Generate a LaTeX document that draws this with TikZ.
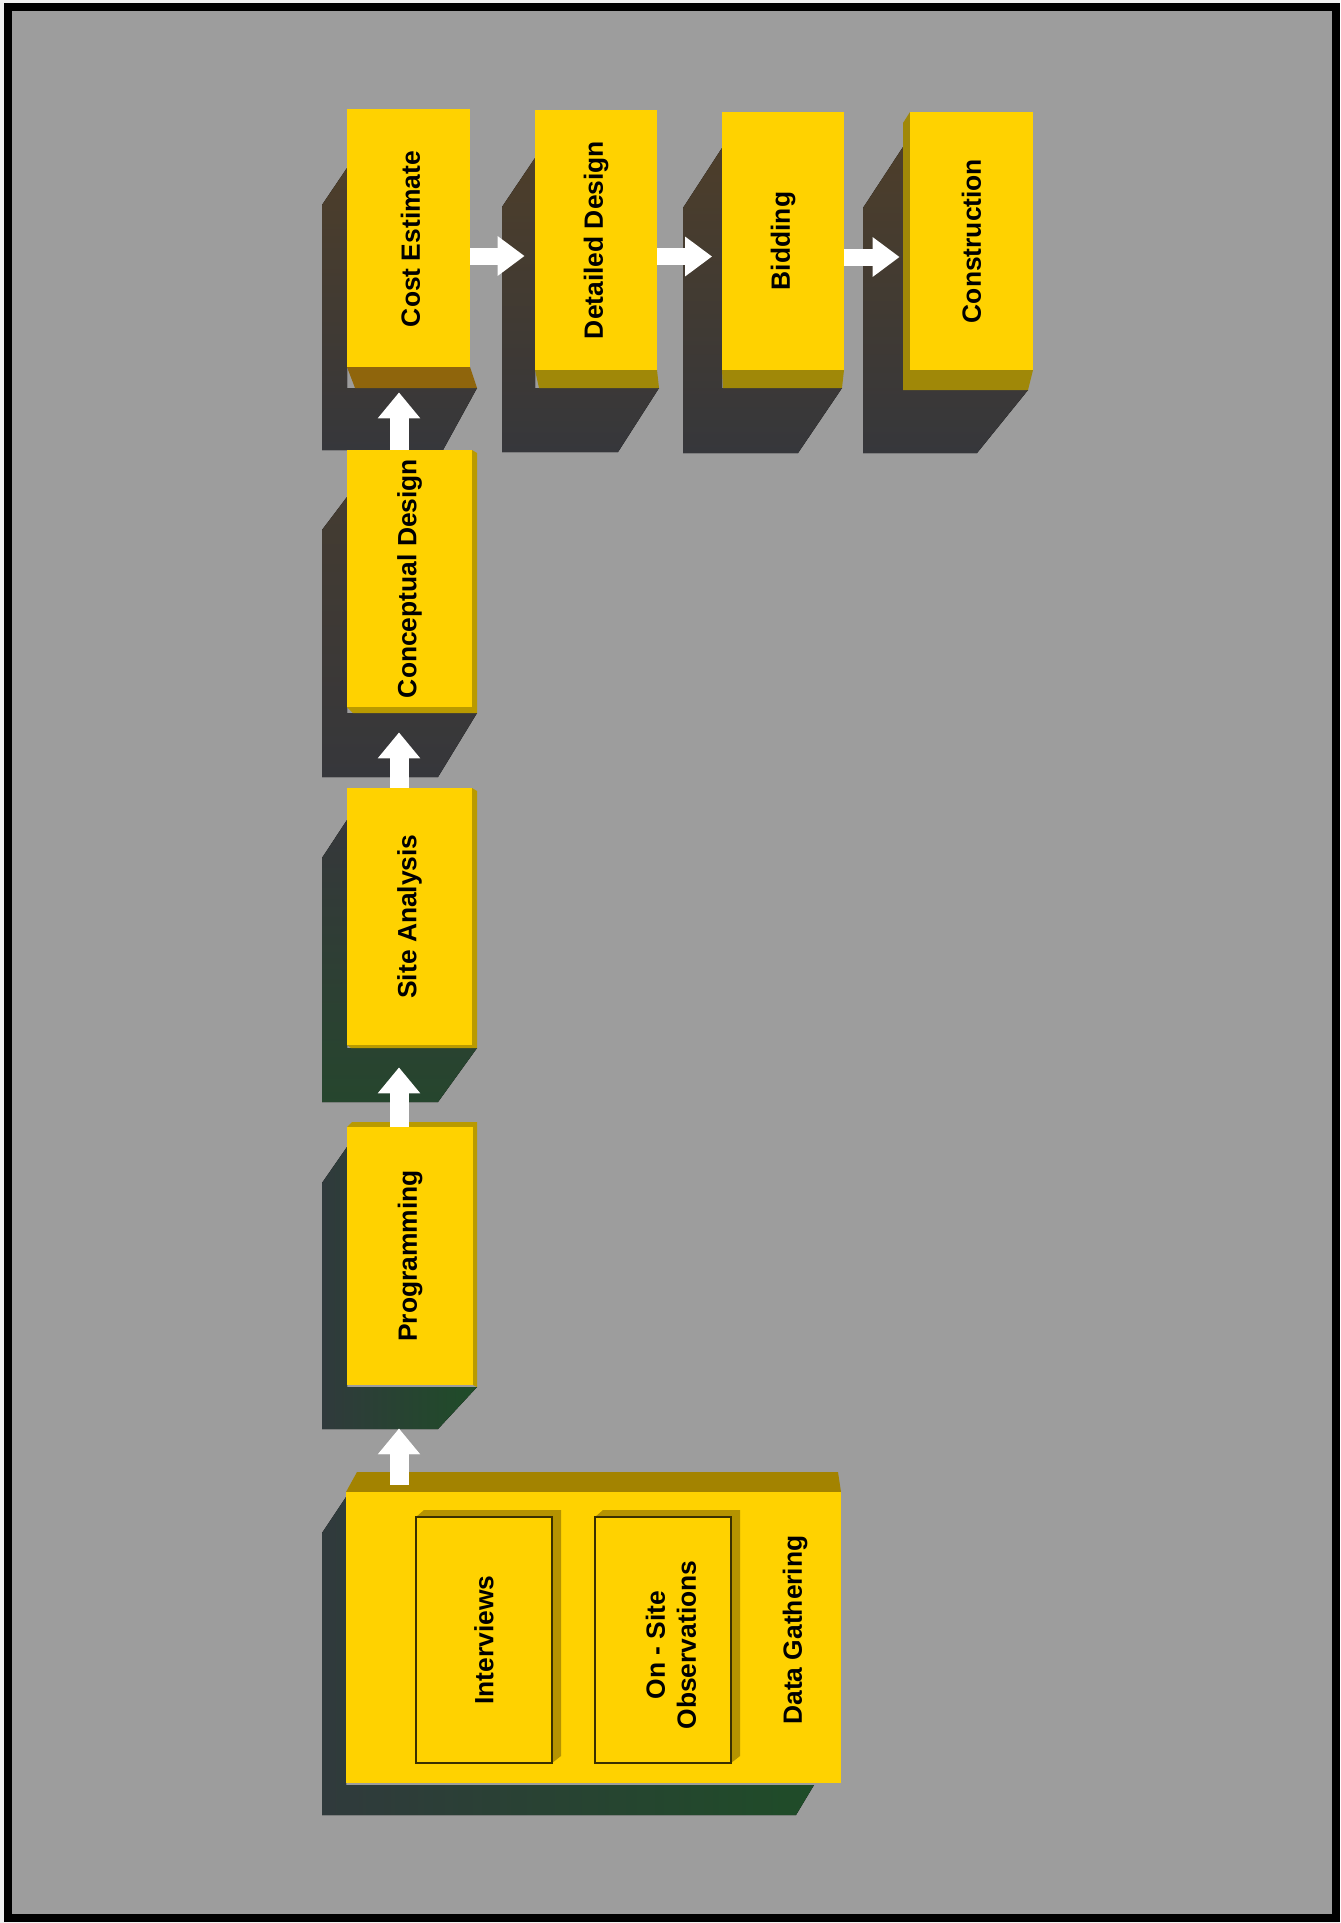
\documentclass[tikz,border=0pt]{standalone}
\usepackage{fontspec}
\setmainfont{Liberation Sans}
\usetikzlibrary{arrows.meta,fit,calc}
\definecolor{bg}{HTML}{9D9D9D}
\definecolor{yel}{HTML}{FFD200}
\definecolor{olivetop}{HTML}{A38300}
\definecolor{sidey}{HTML}{B99A00}
\definecolor{botbrown}{HTML}{8F650C}
\definecolor{botolive}{HTML}{A08808}
\definecolor{shtop}{HTML}{4D3E2A}
\definecolor{shbot}{HTML}{36373B}
\definecolor{shgreen}{HTML}{1F4C28}
\definecolor{shslate}{HTML}{303A3C}
\definecolor{innerside}{HTML}{B59300}
\definecolor{inborder}{HTML}{3A3000}
\begin{document}
\begin{tikzpicture}[x=0.5pt,y=-0.5pt,
  box/.style={fill=yel, draw=none, inner sep=0pt},
  inbox/.style={fill=yel, draw=inborder, line width=0.75pt, inner sep=0pt},
  lab/.style={rotate=90, inner sep=0pt, align=center, font=\fontsize{13.2}{15.5}\selectfont\bfseries},
  harrow/.style={draw=white, line width=8.5pt, -{Triangle[length=13.5pt,width=19pt]}},
  varrow/.style={draw=white, line width=9.5pt, -{Triangle[length=13pt,width=20.5pt]}},
  varrowsh/.style={draw=black, opacity=0.2, line width=9.5pt, -{Triangle[length=13pt,width=20.5pt]}},
  shup/.style={top color=shtop, bottom color=shbot},
  shgr/.style={left color=shslate, right color=shgreen},
]
\useasboundingbox (0,0) rectangle (1340,1923);
\fill[white!85!bg] (0,0) rectangle (1340,1923);
\draw[fill=bg, line width=4pt] (7.5,6.5) rectangle (1336,1917.5);

% shadows
\fill[shup] (347,168) -- (322,205) -- (322,450) -- (443,450) -- (477,388) -- (347,388) -- cycle;
\fill[shup] (535,158) -- (502,207) -- (502,452) -- (618,452) -- (659,388) -- (535,388) -- cycle;
\fill[shup] (722,148) -- (683,208) -- (683,453) -- (798,453) -- (842,388) -- (722,388) -- cycle;
\fill[shup] (903,147) -- (863,208) -- (863,453) -- (977,453) -- (1028,390) -- (903,390) -- cycle;
\fill[top color=shtop!60!shbot, bottom color=shbot] (347,497) -- (322,530) -- (322,777) -- (438,777) -- (477,713) -- (347,713) -- cycle;
\fill[top color=shbot, bottom color=shgreen!70!shbot] (347,820) -- (322,858) -- (322,1102) -- (438,1102) -- (477,1048) -- (347,1048) -- cycle;
\fill[shgr] (347,1147) -- (322,1183) -- (322,1429) -- (438,1429) -- (477,1387) -- (347,1387) -- cycle;
\fill[shgr] (346,1497) -- (322,1533) -- (322,1815) -- (796,1815) -- (814,1785) -- (346,1785) -- cycle;

% side faces
\fill[botbrown] (347,367) -- (470,367) -- (477,388) -- (355,388) -- cycle;
\fill[botolive] (535,370) -- (657,370) -- (659,388) -- (539,388) -- cycle;
\fill[botolive] (722,370) -- (844,370) -- (842,388) -- (723,388) -- cycle;
\fill[botolive] (910,112) -- (903,123) -- (903,390) -- (1028,390) -- (1033,370) -- (910,370) -- cycle;
\fill[sidey] (472,450) -- (477,453) -- (477,713) -- (353,713) -- (347,707) -- (472,707) -- cycle;
\fill[sidey] (472,788) -- (477,791) -- (477,1048) -- (351,1048) -- (347,1045) -- (472,1045) -- cycle;
\fill[sidey] (347,1127) -- (352,1122) -- (477,1122) -- (477,1387) -- (473,1385) -- (473,1127) -- cycle;
\fill[olivetop] (346,1492) -- (357,1472) -- (838,1472) -- (841,1492) -- cycle;

% boxes
\node[box, fit={(347,109) (470,367)}] (ce) {};
\node[box, fit={(535,110) (657,370)}] (dd) {};
\node[box, fit={(722,112) (844,370)}] (bd) {};
\node[box, fit={(910,112) (1033,370)}] (cn) {};
\node[box, fit={(347,450) (472,707)}] (cd) {};
\node[box, fit={(347,788) (472,1045)}] (sa) {};
\node[box, fit={(347,1127) (473,1385)}] (pr) {};
\node[box, fit={(346,1492) (841,1783)}] (dg) {};
\node[lab] (celab) at ($(ce.center)+(2,1)$) {Cost Estimate};
\node[lab] (ddlab) at (dd.center) {Detailed Design};
\node[lab] (bdlab) at (bd.center) {Bidding};
\node[lab] (cnlab) at (cn.center) {Construction};
\node[lab] (cdlab) at (cd.center) {Conceptual Design};
\node[lab] (salab) at (sa.center) {Site Analysis};
\node[lab] (prlab) at (pr.center) {Programming};

% inner boxes
\fill[innerside] (416,1517) -- (424,1510) -- (561,1510) -- (561,1756) -- (552,1763) -- (552,1517) -- cycle;
\fill[innerside] (595,1517) -- (603,1510) -- (740,1510) -- (740,1756) -- (731,1763) -- (731,1517) -- cycle;
\node[inbox, fit={(416,1517) (552,1763)}] (iv) {};
\node[inbox, fit={(595,1517) (731,1763)}] (os) {};
\node[lab] (ivlab) at (484,1640) {Interviews};
\node[lab] (oslab) at (671,1645) {On - Site\\Observations};
\node[lab] (dglab) at (795,1630) {Data Gathering};

% horizontal arrows
\coordinate (h1) at ($(ce.east)+(0,18)$);
\coordinate (h2) at ($(dd.east)+(0,16.5)$);
\coordinate (h3) at ($(bd.east)+(0,16)$);
\draw[harrow] (h1) -- ($(h1 -| dd.west)+(-10,0)$);
\draw[harrow] (h2) -- ($(h2 -| bd.west)+(-9.5,0)$);
\draw[harrow] (h3) -- ($(h3 -| cn.west)+(-10,0)$);

% vertical arrows
\coordinate (v1) at (399,0);
\coordinate (v1a) at (v1 |- cd.north);
\coordinate (v1b) at ($(v1 |- ce.south)+(0,25)$);
\coordinate (v2a) at (v1 |- sa.north);
\coordinate (v2b) at ($(v1 |- cd.south)+(0,25)$);
\coordinate (v3a) at (v1 |- pr.north);
\coordinate (v3b) at ($(v1 |- sa.south)+(0,22)$);
\coordinate (v4a) at ($(v1 |- dg.north)+(0,-7)$);
\coordinate (v4b) at ($(v1 |- pr.south)+(0,43)$);
\begin{scope}[shift={(-18,5)}]
\draw[varrowsh] (v1a) -- (v1b);
\draw[varrowsh] (v2a) -- (v2b);
\draw[varrowsh] (v3a) -- (v3b);
\draw[varrowsh] (v4a) -- (v4b);
\end{scope}
\draw[varrow] (v1a) -- (v1b);
\draw[varrow] (v2a) -- (v2b);
\draw[varrow] (v3a) -- (v3b);
\draw[varrow] (v4a) -- (v4b);
\end{tikzpicture}
\end{document}
